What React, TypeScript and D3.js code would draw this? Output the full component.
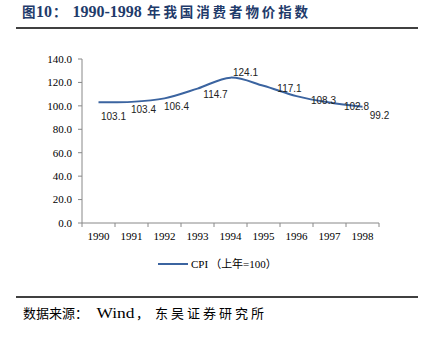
import React from "react";
import * as d3 from "d3";

const years = ["1990", "1991", "1992", "1993", "1994", "1995", "1996", "1997", "1998"];
const cpi = [103.1, 103.4, 106.4, 114.7, 124.1, 117.1, 108.3, 102.8, 99.2];
const yTicks = [0, 20, 40, 60, 80, 100, 120, 140];
// label offsets relative to each point (styling only)
const labelDx = [15, 12, 12, 18, 15, 26, 27, 27, 17];
const labelDy = [14, 8, 8, 6, -5, 3, 4, 4, 9];

const W = 433;
const H = 338;
const margin = { left: 82, right: 379, top: 59, bottom: 223 };

export default function App() {
  const x = d3.scaleBand().domain(years).range([margin.left, margin.right]);
  const y = d3.scaleLinear().domain([0, 140]).range([margin.bottom, margin.top]);
  const cx = (d: string) => (x(d) as number) + x.bandwidth() / 2;
  const line = d3
    .line<number>()
    .x((_, i) => cx(years[i]))
    .y((d) => y(d))
    .curve(d3.curveCatmullRom.alpha(0.5));
  const serif = "'Liberation Serif', 'Times New Roman', serif";
  const cjk = "'Liberation Serif', 'Noto Sans CJK SC', serif";
  const titleColor = "#1f3b6b";
  return (
    <svg
      width={W}
      height={H}
      style={{ position: "absolute", left: 0, top: 0, background: "#fff" }}
    >
      <g fontFamily={cjk} fontWeight="bold" fill={titleColor}>
        <text x={22} y={17} fontSize={13.5}>图</text>
        <text x={36} y={17} fontSize={16}>10</text>
        <text x={53} y={17} fontSize={13.5}>：</text>
        <text x={72.5} y={17} fontSize={16}>1990-1998</text>
        <text x={147} y={17} fontSize={13.5} letterSpacing={2.9}>年我国消费者物价指数</text>
      </g>
      <line x1={16} x2={418} y1={28} y2={28} stroke="#000" strokeWidth={1.5} />

      {/* y axis */}
      <line x1={margin.left} x2={margin.left} y1={margin.top} y2={margin.bottom} stroke="#888" strokeWidth={1} />
      {yTicks.map((t) => (
        <g key={t}>
          <line x1={margin.left - 4} x2={margin.left} y1={y(t)} y2={y(t)} stroke="#888" />
          <text x={72} y={y(t)} dy="0.35em" textAnchor="end" fontFamily={serif} fontSize={11} fill="#000">
            {t.toFixed(1)}
          </text>
        </g>
      ))}
      {/* x axis */}
      <line x1={margin.left} x2={margin.right} y1={margin.bottom} y2={margin.bottom} stroke="#888" strokeWidth={1} />
      {years.map((yr) => (
        <line
          key={"t" + yr}
          x1={(x(yr) as number) + x.bandwidth()}
          x2={(x(yr) as number) + x.bandwidth()}
          y1={margin.bottom}
          y2={margin.bottom + 4}
          stroke="#888"
        />
      ))}
      <line x1={margin.left} x2={margin.left} y1={margin.bottom} y2={margin.bottom + 4} stroke="#888" />
      {years.map((yr) => (
        <text key={yr} x={cx(yr)} y={240} textAnchor="middle" fontFamily={serif} fontSize={11} fill="#000">
          {yr}
        </text>
      ))}

      <path d={line(cpi) || ""} fill="none" stroke="#3b64a0" strokeWidth={2} />
      {cpi.map((v, i) => (
        <text
          key={"l" + i}
          x={cx(years[i]) + labelDx[i]}
          y={y(v) + labelDy[i]}
          dy="0.35em"
          textAnchor="middle"
          fontFamily="'Liberation Sans', Arial, sans-serif"
          fontSize={10}
          fill="#222"
        >
          {v.toFixed(1)}
        </text>
      ))}

      {/* legend */}
      <line x1={158} x2={188} y1={264} y2={264} stroke="#3b64a0" strokeWidth={2} />
      <text x={191} y={264} dy="0.35em" fontFamily={cjk} fontSize={11} fill="#000">
        <tspan>CPI</tspan>
        <tspan dx={2}>（</tspan>
        <tspan>上年=100</tspan>
        <tspan>）</tspan>
      </text>

      <line x1={16} x2={418} y1={297} y2={297} stroke="#000" strokeWidth={1.5} />
      <g fontFamily={cjk} fontSize={13} fill="#000">
        <text x={23} y={313} dy="0.35em">数据来源：</text>
        <text x={96.5} y={313} dy="0.35em" fontSize={14} textLength={38} lengthAdjust="spacingAndGlyphs">Wind</text>
        <text x={136} y={313} dy="0.35em">，</text>
        <text x={155} y={313} dy="0.35em" letterSpacing={3}>东吴证券研究所</text>
      </g>
    </svg>
  );
}
